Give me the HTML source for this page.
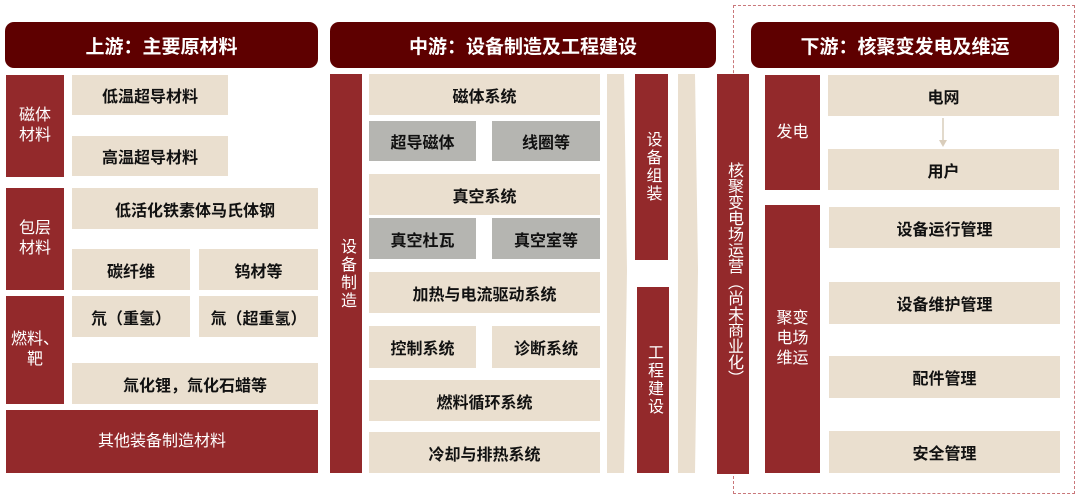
<!DOCTYPE html>
<html><head><meta charset="utf-8"><style>
body{margin:0;width:1080px;height:501px;background:#fff;position:relative;overflow:hidden;font-family:"Liberation Sans","Noto Sans CJK SC",sans-serif;}
.b{position:absolute;display:flex;align-items:center;justify-content:center;text-align:center;box-sizing:border-box;}
.h{background:#5e0000;color:#fff;font-size:19px;font-weight:bold;border-radius:9px;}
.r{background:#93292b;color:#fff;font-size:16px;line-height:20px;}
.e{background:#eadfcf;color:#111;font-size:16px;font-weight:bold;}
.g{background:#b5b5b1;color:#111;font-size:16px;font-weight:bold;}
.v{writing-mode:vertical-rl;letter-spacing:2px;}
</style></head><body>
<div style="position:absolute;left:733px;top:5px;width:342px;height:489px;border:1.5px dashed #c9777a;box-sizing:border-box;"></div>
<div class="b h" style="left:5px;top:22px;width:313px;height:46px;">上游：主要原材料</div>
<div class="b h" style="left:330px;top:22px;width:386px;height:46px;">中游：设备制造及工程建设</div>
<div class="b h" style="left:751px;top:22px;width:308px;height:46px;">下游：核聚变发电及维运</div>

<div class="b r" style="left:6px;top:75px;width:58px;height:102px;">磁体<br>材料</div>
<div class="b r" style="left:6px;top:188px;width:58px;height:102px;">包层<br>材料</div>
<div class="b r" style="left:6px;top:296px;width:58px;height:108px;">燃料、<br>靶</div>
<div class="b r" style="left:6px;top:410px;width:312px;height:63px;">其他装备制造材料</div>
<div class="b e" style="left:72px;top:75px;width:156px;height:40px;">低温超导材料</div>
<div class="b e" style="left:72px;top:136px;width:156px;height:40px;">高温超导材料</div>
<div class="b e" style="left:72px;top:188px;width:246px;height:41px;">低活化铁素体马氏体钢</div>
<div class="b e" style="left:72px;top:249px;width:118px;height:41px;">碳纤维</div>
<div class="b e" style="left:199px;top:249px;width:119px;height:41px;">钨材等</div>
<div class="b e" style="left:72px;top:296px;width:118px;height:41px;">氘（重氢）</div>
<div class="b e" style="left:199px;top:296px;width:119px;height:41px;">氚（超重氢）</div>
<div class="b e" style="left:72px;top:363px;width:246px;height:41px;">氚化锂，氚化石蜡等</div>

<div class="b r v" style="left:330px;top:74px;width:32px;height:399px;">设备制造</div>
<div class="b e" style="left:369px;top:74px;width:231px;height:41px;">磁体系统</div>
<div class="b g" style="left:369px;top:121px;width:107px;height:40px;">超导磁体</div>
<div class="b g" style="left:492px;top:121px;width:108px;height:40px;">线圈等</div>
<div class="b e" style="left:369px;top:174px;width:231px;height:41px;">真空系统</div>
<div class="b g" style="left:369px;top:218px;width:107px;height:41px;">真空杜瓦</div>
<div class="b g" style="left:492px;top:218px;width:108px;height:41px;">真空室等</div>
<div class="b e" style="left:369px;top:272px;width:231px;height:41px;">加热与电流驱动系统</div>
<div class="b e" style="left:369px;top:326px;width:107px;height:42px;">控制系统</div>
<div class="b e" style="left:492px;top:326px;width:108px;height:42px;">诊断系统</div>
<div class="b e" style="left:369px;top:380px;width:231px;height:41px;">燃料循环系统</div>
<div class="b e" style="left:369px;top:432px;width:231px;height:41px;">冷却与排热系统</div>
<svg style="position:absolute;left:0;top:0" width="1080" height="501">
<polygon points="607,74 624,74 627,270 624,473 607,473" fill="#eadfcf"/>
<polygon points="678,74 695,74 698,270 695,473 678,473" fill="#eadfcf"/>
<line x1="943" y1="118" x2="943" y2="142" stroke="#d9cdbb" stroke-width="1.5"/>
<polygon points="939,140 947,140 943,147" fill="#d9cdbb"/>
</svg>
<div class="b r v" style="left:635px;top:74px;width:33px;height:186px;">设备组装</div>
<div class="b r v" style="left:637px;top:287px;width:32px;height:186px;">工程建设</div>
<div class="b r v" style="left:717px;top:74px;width:32px;height:400px;letter-spacing:0;">核聚变电场运营（尚未商业化）</div>

<div class="b r" style="left:765px;top:75px;width:55px;height:115px;">发电</div>
<div class="b e" style="left:828px;top:75px;width:231px;height:41px;">电网</div>
<div class="b e" style="left:828px;top:149px;width:231px;height:41px;">用户</div>
<div class="b r" style="left:765px;top:205px;width:55px;height:268px;">聚变<br>电场<br>维运</div>
<div class="b e" style="left:829px;top:207px;width:231px;height:41px;">设备运行管理</div>
<div class="b e" style="left:829px;top:282px;width:231px;height:42px;">设备维护管理</div>
<div class="b e" style="left:829px;top:356px;width:231px;height:42px;">配件管理</div>
<div class="b e" style="left:829px;top:431px;width:231px;height:42px;">安全管理</div>
</body></html>
